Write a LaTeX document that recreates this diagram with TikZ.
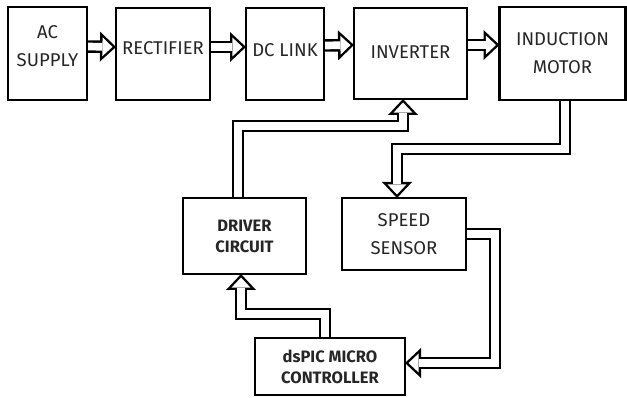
\documentclass[tikz,border=0pt]{standalone}
\usepackage{fontspec}
\setmainfont{Fira Sans}
\usepackage{tikz}
\usetikzlibrary{arrows.meta,backgrounds}

\tikzset{
  block/.style={draw, line width=2.6pt, outer sep=0pt, inner sep=2pt, align=center,
    font=\fontsize{18.5}{28}\selectfont, text=black!85},
  smallblock/.style={block, font=\bfseries\fontsize{16.5}{21}\selectfont},
  flow/.style={draw=black, line width=12.5pt,
    -{Triangle[length=16pt, width=30pt, line width=0pt]},
    postaction={draw=white, line width=7.7pt, shorten >=3.5pt,
      -{Triangle[length=10.1pt, width=18.9pt, line width=0pt]}}}
}

\begin{document}
\begin{tikzpicture}[x=1pt, y=-1pt]
\useasboundingbox (0,0) rectangle (627,398);

\node at (47.5,53.5) (ac)[block, minimum width=79pt, minimum height=93pt, text depth=14pt]{AC\\SUPPLY};
\node at (163,54) (rect)[block, minimum width=94pt, minimum height=92pt, text depth=12pt]{RECTIFIER};
\node at (285,54) (dclink)[block, minimum width=78pt, minimum height=92pt, text depth=8pt]{DC LINK};
\node at (410.5,53.5) (inv)[block, minimum width=113pt, minimum height=91pt, text depth=3pt]{INVERTER};
\node at (562.5,53.5) (motor)[block, minimum width=126pt, minimum height=93pt]{INDUCTION\\MOTOR};

\node at (244.5,236) (driver)[smallblock, minimum width=123pt, minimum height=76pt]{DRIVER\\CIRCUIT};
\node at (404,234) (sensor)[block, minimum width=124pt, minimum height=72pt]{SPEED\\SENSOR};
\node at (330,366.5) (dspic)[smallblock, minimum width=150pt, minimum height=57pt]{dsPIC MICRO\\CONTROLLER};

\begin{scope}[on background layer]
\draw[flow] ([yshift=7pt]ac.east) -- ([yshift=7pt]rect.west);
\draw[flow] ([yshift=7pt]rect.east) -- ([yshift=7pt]dclink.west);
\draw[flow] ([yshift=8.5pt]dclink.east) -- ([yshift=8.5pt]inv.west);
\draw[flow] ([yshift=8.5pt]inv.east) -- ([yshift=8.5pt]motor.west);
% feedback loop
\draw[flow] ([xshift=2.5pt]motor.south) -- ++(0,49) -| ([xshift=-7pt]sensor.north);
\draw[flow] (sensor.east) -- ++(29,0) |- ([yshift=3.5pt]dspic.east);
\draw[flow] ([xshift=-5pt]dspic.north) -- ++(0,-24) -| ([xshift=-3.5pt]driver.south);
\draw[flow] ([xshift=-6.5pt]driver.north) -- ++(0,-72) -| ([xshift=-7.5pt]inv.south);
\end{scope}
\end{tikzpicture}
\end{document}
